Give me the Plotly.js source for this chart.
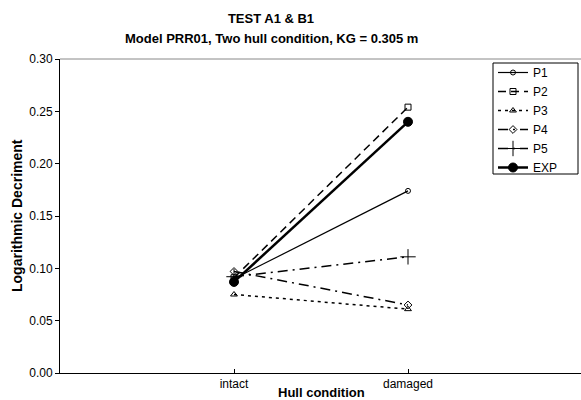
<!DOCTYPE html>
<html>
<head>
<meta charset="utf-8">
<script src="https://cdn.plot.ly/plotly-3.0.1.min.js"></script>
<style>
  html, body { margin: 0; padding: 0; background: #fff; overflow: hidden; }
  #chart { width: 584px; height: 400px; }
</style>
</head>
<body>
<div id="chart"></div>
<script>
// Hull conditions (x categories)
const conditions = ['intact', 'damaged'];

// Logarithmic decrement per prediction method and experiment
const p1  = [0.090, 0.174];
const p2  = [0.091, 0.254];
const p3  = [0.075, 0.061];
const p4  = [0.097, 0.065];
const p5  = [0.092, 0.111];
const exp = [0.087, 0.240];

const yTicks = [0, 0.05, 0.10, 0.15, 0.20, 0.25, 0.30];
const yTickText = ['0.00', '0.05', '0.10', '0.15', '0.20', '0.25', '0.30'];

const font = 'Liberation Sans, Arial, sans-serif';

function series(name, y, dash, width, symbol, msize) {
  return {
    type: 'scatter', mode: 'lines+markers', name: name,
    x: [0, 1], y: y,
    line: { color: '#000', width: width, dash: dash },
    marker: { symbol: symbol, size: msize, color: '#000', line: { color: '#000', width: 1 } }
  };
}

const traces = [
  series('P1', p1, 'solid', 1.2, 'circle-open', 5),
  series('P2', p2, '8px,5px', 1.5, 'square-open', 6),
  series('P3', p3, '3px,4px', 1.5, 'triangle-up-open', 6),
  series('P4', p4, '10px,5px,2px,5px', 1.5, 'diamond-open', 6),
  series('P5', p5, '10px,5px,2px,5px', 1.5, 'cross-thin-open', 11),
  series('EXP', exp, 'solid', 2.5, 'circle', 9)
];

// The plot area runs slightly past the visible page on the right
const W = 584, H = 400, L = 60, R = 0, T = 59, B = 27;
const plotW = W - L - R, plotH = H - T - B;
const px = v => (v - L) / plotW;          // page x -> paper x
const py = v => (H - B - v) / plotH;      // page y -> paper y

const layout = {
  width: W, height: H,
  margin: { l: L, r: R, t: T, b: B },
  paper_bgcolor: '#fff', plot_bgcolor: '#fff',
  font: { family: font, size: 12, color: '#000' },
  showlegend: true,
  title: {
    text: '<b>TEST A1 & B1</b>',
    font: { family: font, size: 13, color: '#000' },
    x: 271 / W, xref: 'container', xanchor: 'center',
    y: 1 - 18 / H, yref: 'container', yanchor: 'middle'
  },
  xaxis: {
    range: [-1, -1 + plotW / 174], tickvals: [0, 1], ticktext: conditions,
    showgrid: false, zeroline: false,
    showline: true, linecolor: '#000', linewidth: 1,
    ticks: 'inside', ticklen: 4, tickcolor: '#000',
    tickfont: { family: font, size: 12 }
  },
  yaxis: {
    range: [0, 0.30], tickvals: yTicks, ticktext: yTickText,
    showgrid: false, zeroline: false,
    showline: true, linecolor: '#000', linewidth: 1,
    ticks: 'outside', ticklen: 4, tickcolor: '#000',
    tickfont: { family: font, size: 12 }
  },
  legend: {
    x: px(493), xanchor: 'left', y: py(58), yanchor: 'top',
    borderwidth: 0, bgcolor: 'rgba(0,0,0,0)',
    font: { family: font, size: 12 },
    itemwidth: 30, tracegroupgap: 0
  },
  shapes: [
    // top edge of the plot area
    { type: 'line', xref: 'paper', yref: 'paper', x0: 0, x1: 1, y0: 1, y1: 1,
      line: { color: '#888', width: 1 } },
    // legend frame
    { type: 'rect', xref: 'paper', yref: 'paper',
      x0: px(493), x1: px(578), y0: py(174), y1: py(63),
      line: { color: '#000', width: 1 }, fillcolor: 'rgba(0,0,0,0)' }
  ],
  annotations: [
    { text: '<b>Model PRR01, Two hull condition, KG = 0.305 m</b>',
      xref: 'paper', yref: 'paper', x: px(271), y: 1, yshift: 21,
      xanchor: 'center', yanchor: 'middle', showarrow: false,
      font: { family: font, size: 13 } },
    { text: '<b>Hull condition</b>', xref: 'paper', yref: 'paper',
      x: px(321), y: 0, yshift: -19, xanchor: 'center', yanchor: 'middle',
      showarrow: false, font: { family: font, size: 13 } },
    { text: '<b>Logarithmic Decriment</b>', xref: 'paper', yref: 'paper',
      x: 0, xshift: -43, y: 0.5, xanchor: 'center', yanchor: 'middle',
      textangle: -90, showarrow: false, font: { family: font, size: 14 } }
  ]
};

Plotly.newPlot('chart', traces, layout, { displayModeBar: false, staticPlot: true });
</script>
</body>
</html>
